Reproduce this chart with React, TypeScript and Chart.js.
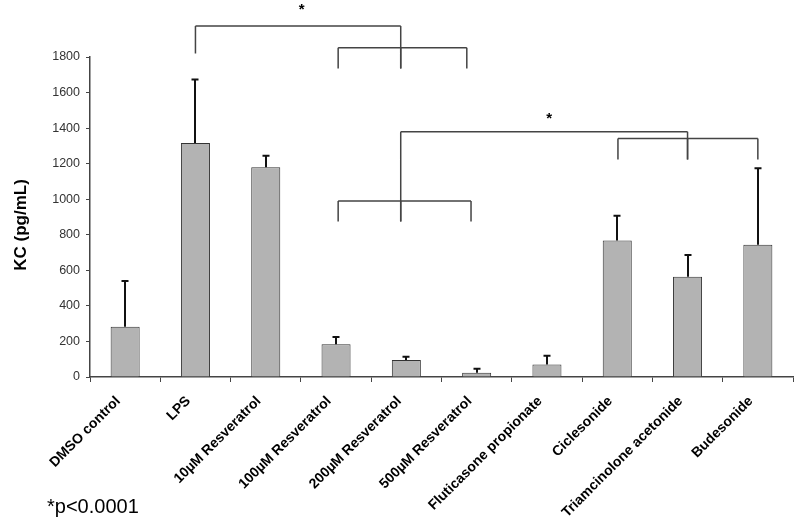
import React, { useEffect, useRef } from "react";
import { Chart, registerables } from "chart.js";

Chart.register(...registerables);

const categories = [
  "DMSO control",
  "LPS",
  "10µM Resveratrol",
  "100µM Resveratrol",
  "200µM Resveratrol",
  "500µM Resveratrol",
  "Fluticasone propionate",
  "Ciclesonide",
  "Triamcinolone acetonide",
  "Budesonide",
];
const kcMeans = [282, 1316, 1180, 184, 96, 24, 71, 768, 564, 744];
const kcErrors = [258, 358, 65, 41, 18, 23, 49, 139, 122, 430];

const yTicksMin = 0;
const yTicksMax = 1800;
const yTickStep = 200;

// significance brackets (x in category index units, y in pg/mL)
const bracketTops = [1975, 1852, 1380, 1342, 990];
const bracketLegX = [
  [1.0, 3.92],
  [3.03, 3.92, 4.86],
  [3.92, 8.0],
  [7.01, 8.0, 9.0],
  [3.03, 3.92, 4.92],
];
const bracketLegEnd = [
  [1820, 1736],
  [1736, 1736, 1736],
  [874, 1224],
  [1224, 1224, 1224],
  [874, 874, 874],
];
const starX = [2.51, 6.03];
const starY = [2080, 1468];
const footnote = "*p<0.0001";
const yTitle = "KC (pg/mL)";

const errorBarPlugin = {
  id: "errorBars",
  afterDatasetsDraw(chart: any) {
    const ctx = chart.ctx;
    const meta = chart.getDatasetMeta(0);
    const y = chart.scales.y;
    ctx.save();
    ctx.strokeStyle = "#111";
    ctx.lineWidth = 2;
    meta.data.forEach((bar: any, i: number) => {
      const x = Math.round(bar.x);
      const top = y.getPixelForValue(kcMeans[i]);
      const end = y.getPixelForValue(kcMeans[i] + kcErrors[i]);
      ctx.beginPath();
      ctx.moveTo(x, top);
      ctx.lineTo(x, end);
      ctx.moveTo(x - 3.5, end);
      ctx.lineTo(x + 3.5, end);
      ctx.stroke();
    });
    ctx.restore();
  },
};

const bracketPlugin = {
  id: "brackets",
  afterDraw(chart: any) {
    const ctx = chart.ctx;
    const xs = chart.scales.x;
    const ys = chart.scales.y;
    ctx.save();
    ctx.strokeStyle = "#444";
    ctx.lineWidth = 1.5;
    bracketTops.forEach((top, b) => {
      const legs = bracketLegX[b];
      const ty = ys.getPixelForValue(top);
      const x1 = xs.getPixelForValue(Math.min(...legs));
      const x2 = xs.getPixelForValue(Math.max(...legs));
      ctx.beginPath();
      ctx.moveTo(x1, ty);
      ctx.lineTo(x2, ty);
      legs.forEach((lx: number, k: number) => {
        const px = xs.getPixelForValue(lx);
        ctx.moveTo(px, ty);
        ctx.lineTo(px, ys.getPixelForValue(bracketLegEnd[b][k]));
      });
      ctx.stroke();
    });
    ctx.fillStyle = "#000";
    ctx.font = "bold 15px Arial";
    ctx.textAlign = "center";
    ctx.textBaseline = "middle";
    starX.forEach((sx, i) => {
      ctx.fillText("*", xs.getPixelForValue(sx), ys.getPixelForValue(starY[i]) + 3);
    });
    // y-axis title
    ctx.save();
    ctx.translate(21, 225);
    ctx.rotate(-Math.PI / 2);
    ctx.font = "bold 17px Arial";
    ctx.fillText(yTitle, 0, 0);
    ctx.restore();
    // footnote
    ctx.font = "20px Arial";
    ctx.textAlign = "left";
    ctx.textBaseline = "alphabetic";
    ctx.fillText(footnote, 47, 513);
    ctx.restore();
  },
};

export default function App() {
  const ref = useRef<HTMLCanvasElement | null>(null);
  useEffect(() => {
    if (!ref.current) return;
    const chart = new Chart(ref.current, {
      type: "bar",
      data: {
        labels: categories,
        datasets: [
          {
            data: kcMeans,
            backgroundColor: "#b3b3b3",
            borderColor: "#333",
            borderWidth: 1,
            categoryPercentage: 1,
            barPercentage: 0.413,
          },
        ],
      },
      options: {
        animation: false,
        responsive: false,
        devicePixelRatio: 1,
        layout: { padding: { top: 57, right: 7, left: 0, bottom: 0 } },
        plugins: { legend: { display: false }, tooltip: { enabled: false } },
        scales: {
          x: {
            grid: {
              display: true,
              drawOnChartArea: false,
              drawTicks: true,
              tickLength: 5,
              color: "#444",
              offset: true,
            },
            border: { color: "#444", width: 1.5 },
            ticks: {
              minRotation: 45,
              maxRotation: 45,
              autoSkip: false,
              color: "#000",
              padding: 11,
              labelOffset: -7,
              font: { family: "Arial", size: 14, weight: "bold" },
            },
            afterFit: (s: any) => {
              s.height = 149;
            },
          },
          y: {
            min: yTicksMin,
            max: yTicksMax,
            ticks: {
              stepSize: yTickStep,
              color: "#333",
              padding: 6,
              font: { family: "Arial", size: 12.5 },
              callback: (v: any) => String(v),
            },
            grid: { drawOnChartArea: false, tickLength: 4, color: "#444" },
            border: { color: "#444", width: 1.5 },
            title: { display: false },
            afterFit: (s: any) => {
              s.width = 90;
            },
          },
        },
      } as any,
      plugins: [errorBarPlugin, bracketPlugin],
    });
    return () => chart.destroy();
  }, []);
  return (
    <div style={{ position: "absolute", left: 0, top: 0, width: 800, height: 526, background: "#fff" }}>
      <canvas ref={ref} width={800} height={526} style={{ display: "block" }} />
    </div>
  );
}
